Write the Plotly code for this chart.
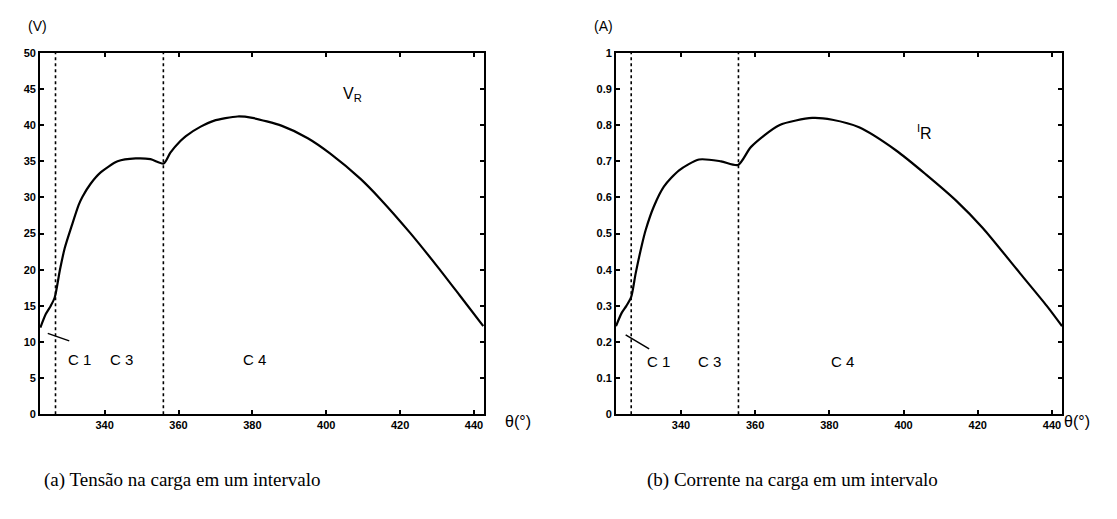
import plotly.graph_objects as go

# ---- data ----
theta_v = [322.6, 324.1, 325.4, 326.5, 327.9, 329.2, 331.1, 333.0, 334.0, 336.2, 339.0,
           343.5, 348.4, 352.4, 356.0, 357.8, 360.5, 362.0, 366.0, 369.5, 376.0, 380.0,
           388.0, 395.0, 401.0, 409.2, 414.6, 422.7, 430.3, 436.2, 442.5]
v_r = [12.0, 13.9, 15.0, 16.2, 20.0, 23.0, 26.1, 29.0, 30.1, 31.9, 33.5,
       35.0, 35.4, 35.3, 34.7, 36.2, 37.8, 38.5, 39.8, 40.6, 41.2, 41.0,
       39.9, 38.2, 36.1, 32.6, 29.8, 25.1, 20.3, 16.4, 12.2]

theta_i = [322.5, 324.0, 325.3, 326.6, 327.8, 329.5, 330.5, 332.7, 335.4, 339.5, 344.9,
           350.8, 355.4, 358.9, 366.5, 375.4, 380.8, 388.0, 398.0, 406.0, 414.3,
           421.4, 431.4, 438.6, 442.7]
i_r = [0.244, 0.28, 0.30, 0.325, 0.39, 0.47, 0.51, 0.575, 0.63, 0.675, 0.705,
       0.70, 0.69, 0.74, 0.80, 0.82, 0.815, 0.794, 0.73, 0.664, 0.59,
       0.515, 0.39, 0.30, 0.244]

x_ticks = [340, 360, 380, 400, 420, 440]
v_ticks = [0, 5, 10, 15, 20, 25, 30, 35, 40, 45, 50]
i_ticks = [0, 0.1, 0.2, 0.3, 0.4, 0.5, 0.6, 0.7, 0.8, 0.9, 1]
i_tick_text = ["0", "0.1", "0.2", "0.3", "0.4", "0.5", "0.6", "0.7", "0.8", "0.9", "1"]

bounds_v = [326.7, 355.9]
bounds_i = [326.6, 355.5]

# interval labels: (text, theta, value)
labels_v = [("C 1", 333.2, 7.6), ("C 3", 344.6, 7.6), ("C 4", 380.5, 7.6)]
labels_i = [("C 1", 334.0, 0.145), ("C 3", 347.6, 0.145), ("C 4", 383.5, 0.145)]

captions = ["(a) Tensão na carga em um intervalo", "(b) Corrente na carga em um intervalo"]

fig = go.Figure()
fig.add_trace(go.Scatter(x=theta_v, y=v_r, mode="lines", line=dict(color="black", width=2.2),
                         line_shape="spline", line_smoothing=0.7,
                         xaxis="x", yaxis="y", showlegend=False))
fig.add_trace(go.Scatter(x=theta_i, y=i_r, mode="lines", line=dict(color="black", width=2.2),
                         line_shape="spline", line_smoothing=0.7,
                         xaxis="x2", yaxis="y2", showlegend=False))

tickfont = dict(family="Liberation Sans, Arial", size=11, color="black", weight="bold")
common_x = dict(range=[322.5, 442.7], tickvals=x_ticks, ticks="inside", ticklen=4,
                tickwidth=1.5, tickcolor="black", showline=True, linecolor="black",
                linewidth=1.8, mirror="ticks", showgrid=False, zeroline=False,
                tickfont=tickfont)
common_y = dict(ticks="inside", ticklen=4, tickwidth=1.5, tickcolor="black",
                showline=True, linecolor="black", linewidth=1.8, mirror="ticks",
                showgrid=False, zeroline=False, tickfont=tickfont,
                domain=[1 - 418 / 519, 1 - 48 / 519])

fig.update_layout(
    width=1117, height=519, margin=dict(l=0, r=0, t=0, b=0),
    paper_bgcolor="white", plot_bgcolor="white",
    xaxis=dict(common_x, domain=[40 / 1117, 484 / 1117], anchor="y"),
    yaxis=dict(common_y, range=[0, 50], tickvals=v_ticks, anchor="x"),
    xaxis2=dict(common_x, domain=[616 / 1117, 1062 / 1117], anchor="y2"),
    yaxis2=dict(common_y, range=[0, 1], tickvals=i_ticks, ticktext=i_tick_text, anchor="x2"),
)

# dotted interval boundaries
for b in bounds_v:
    fig.add_shape(type="line", xref="x", yref="y domain", x0=b, x1=b, y0=0, y1=1,
                  line=dict(color="black", width=1.6, dash="dot"))
for b in bounds_i:
    fig.add_shape(type="line", xref="x2", yref="y2 domain", x0=b, x1=b, y0=0, y1=1,
                  line=dict(color="black", width=1.6, dash="dot"))

lab_font = dict(family="Liberation Sans, Arial", size=15, color="black")
for t, x, y in labels_v:
    fig.add_annotation(x=x, y=y, xref="x", yref="y", text=t, showarrow=False, font=lab_font)
for t, x, y in labels_i:
    fig.add_annotation(x=x, y=y, xref="x2", yref="y2", text=t, showarrow=False, font=lab_font)

# pointer lines to C1 region
fig.add_annotation(x=324.6, y=11.2, xref="x", yref="y", ax=23, ay=8, text="",
                   showarrow=True, arrowhead=0, arrowwidth=1.5, arrowcolor="black")
fig.add_annotation(x=325.1, y=0.22, xref="x2", yref="y2", ax=25, ay=15, text="",
                   showarrow=True, arrowhead=0, arrowwidth=1.5, arrowcolor="black")

# curve labels
fig.add_annotation(x=407, y=44.3, xref="x", yref="y", text="V<sub>R</sub>", showarrow=False,
                   font=dict(family="Liberation Sans, Arial", size=16, color="black"))
fig.add_annotation(x=405.7, y=0.78, xref="x2", yref="y2", text="<sup>I</sup>R", showarrow=False,
                   font=dict(family="Liberation Sans, Arial", size=16, color="black"))

# units
unit_font = dict(family="Liberation Sans, Arial", size=14, color="black")
fig.add_annotation(x=26 / 1117, y=1 - 20 / 519, xref="paper", yref="paper", text="(V)",
                   showarrow=False, yanchor="middle", font=unit_font)
fig.add_annotation(x=604 / 1117, y=1 - 20 / 519, xref="paper", yref="paper", text="(A)",
                   showarrow=False, yanchor="middle", font=unit_font)
theta_font = dict(family="Liberation Sans, Arial", size=16, color="black")
fig.add_annotation(x=518 / 1117, y=1 - 425 / 519, xref="paper", yref="paper", text="θ(°)",
                   showarrow=False, yanchor="middle", font=theta_font)
fig.add_annotation(x=1092 / 1117, y=1 - 425 / 519, xref="paper", yref="paper", text="θ(°)",
                   showarrow=False, yanchor="middle", font=theta_font)

# captions
cap_font = dict(family="Liberation Serif, Times New Roman", size=19, color="black")
fig.add_annotation(x=42 / 1117, y=1 - 485 / 519, xref="paper", yref="paper", text=captions[0],
                   showarrow=False, xanchor="left", yanchor="middle", font=cap_font)
fig.add_annotation(x=645 / 1117, y=1 - 485 / 519, xref="paper", yref="paper", text=captions[1],
                   showarrow=False, xanchor="left", yanchor="middle", font=cap_font)

fig.write_html("out.html")
